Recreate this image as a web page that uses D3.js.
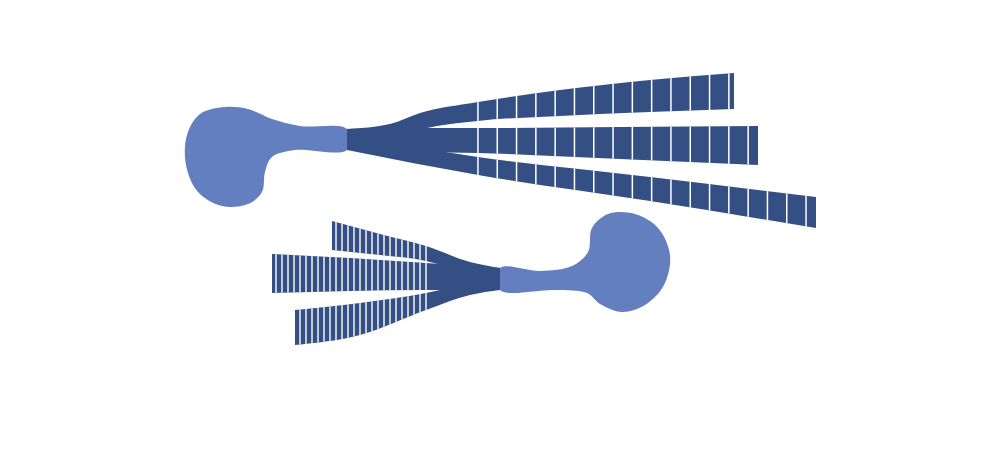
<!DOCTYPE html>
<html>
<head>
<script src="https://d3js.org/d3.v7.min.js"></script>
<style>body{margin:0;background:#fff}</style>
</head>
<body>
<svg id="chart" width="1000" height="465"></svg>
<script>
// blob outlines (x, y)
const topBlob = [[347,129],[300,126],[272,119],[248,109],[225,107],[200,114],[187,135],[186,165],[198,192],[222,206],[248,204],[262,192],[265,172],[272,157],[295,150],[347,150]];
const botBlob = [[500,268],[540,271],[572,266],[588,252],[592,228],[608,214],[635,214],[658,228],[670,255],[664,285],[645,305],[622,312],[600,304],[587,293],[555,290],[500,290]];

// branches: x, top edge, bottom edge
const topX1 = [347,390,420,478,560,650,734], topT1 = [129,124,113,102,90,80,73], topB1 = [150,141,130,121,116,112,109];
const topX2 = [347,420,478,620,758],          topT2 = [129,128,128,127,126],       topB2 = [150,152,153,159,165];
const topX3 = [347,478,650,816],              topT3 = [135,157,177,197],           topB3 = [150,175,201,228];
const botX1 = [332,380,426,470,500], botT1 = [221,234,246,262,268], botB1 = [250,255,261,275,290];
const botX2 = [272,350,426,500],     botT2 = [254,258,263,268],     botB2 = [293,291,290,290];
const botX3 = [295,360,426,470,500], botT3 = [310,303,293,283,275], botB3 = [345,335,310,295,290];

const segStartTop = 478, segWTop = 19.3, segEndTop = 816;
const segStartBot = 426, segWBot = 6.0, segEndBot = 272;

const light = "#647fbf", dark = "#344f84";
const svg = d3.select("#chart");
const x = d3.scaleLinear([0,1000],[0,1000]);
const y = d3.scaleLinear([0,465],[0,465]);

const blobLine = d3.line().x(d=>x(d[0])).y(d=>y(d[1])).curve(d3.curveCatmullRomClosed);
svg.append("path").attr("d", blobLine(topBlob)).attr("fill", light);
svg.append("path").attr("d", blobLine(botBlob)).attr("fill", light);

const area = d3.area().x(d=>x(d.x)).y0(d=>y(d.t)).y1(d=>y(d.b)).curve(d3.curveMonotoneX);
function pts(xs, ts, bs) { return xs.map((v,i)=>({x:v, t:ts[i], b:bs[i]})); }

const topBranches = [pts(topX1,topT1,topB1), pts(topX2,topT2,topB2), pts(topX3,topT3,topB3)];
const botBranches = [pts(botX1,botT1,botB1), pts(botX2,botT2,botB2), pts(botX3,botT3,botB3)];

const defs = svg.append("defs");
const clipTop = defs.append("clipPath").attr("id","clipTop");
const clipBot = defs.append("clipPath").attr("id","clipBot");
topBranches.forEach(b => { svg.append("path").attr("d", area(b)).attr("fill", dark); clipTop.append("path").attr("d", area(b)); });
botBranches.forEach(b => { svg.append("path").attr("d", area(b)).attr("fill", dark); clipBot.append("path").attr("d", area(b)); });

// segment separators
const sepTop = d3.range(segStartTop, segEndTop, segWTop);
svg.append("g").attr("clip-path","url(#clipTop)").selectAll("rect").data(sepTop).join("rect")
  .attr("x", d=>x(d)-0.8).attr("width",1.5).attr("y",60).attr("height",180).attr("fill","#fff");
const sepBot = d3.range(segStartBot, segEndBot, -segWBot);
svg.append("g").attr("clip-path","url(#clipBot)").selectAll("rect").data(sepBot).join("rect")
  .attr("x", d=>x(d)-0.7).attr("width",1.4).attr("y",200).attr("height",160).attr("fill","#fff");
</script>
</body>
</html>
